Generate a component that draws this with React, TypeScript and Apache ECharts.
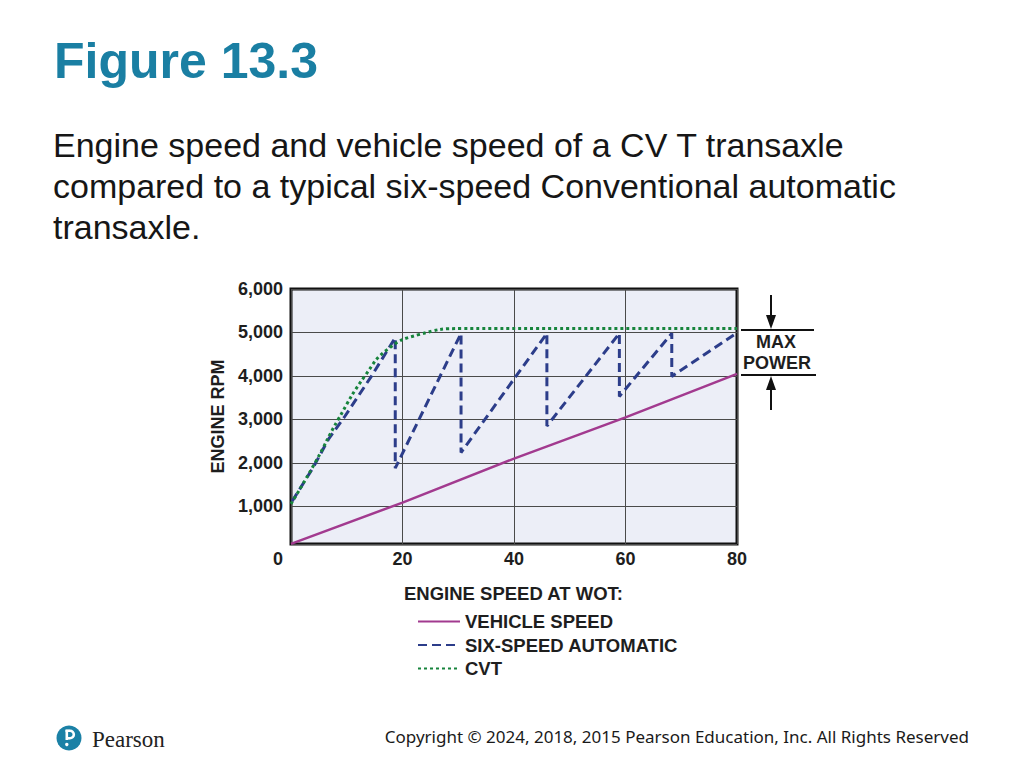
import { useEffect, useRef } from 'react';
import * as echarts from 'echarts';

// values (x = speed axis, y = engine rpm)
const vehicleSpeed: [number, number][] = [
  [0, 140], [20, 1090], [40, 2100], [60, 3050], [80, 4050],
];
const sixSpeed: [number, number][] = [
  [0.2, 1120], [4, 1900], [6.7, 2540], [9.7, 3080], [14.5, 4010], [18.7, 4880],
  [18.7, 1880], [30.5, 4980],
  [30.5, 2240], [45.9, 4980],
  [45.9, 2850], [58.9, 4980],
  [58.9, 3530], [68.3, 4980],
  [68.3, 3990], [79.5, 4950],
];
const cvt: [number, number][] = [
  [0, 1060], [4.3, 2000], [8.5, 3010], [13.3, 4010], [17.5, 4630],
  [22.9, 4950], [30.6, 5090], [50, 5090], [80, 5090],
];
const seriesNames = ['VEHICLE SPEED', 'SIX-SPEED AUTOMATIC', 'CVT'];
const bodyLines = [
  'Engine speed and vehicle speed of a CV T transaxle',
  'compared to a typical six-speed Conventional automatic',
  'transaxle.',
];

const SANS = '"Liberation Sans", Arial, sans-serif';
const INK = '#1e1e1e';

const App = () => {
  const chartRef = useRef<HTMLDivElement>(null);

  useEffect(() => {
    if (!chartRef.current) return;
    const chart = echarts.init(chartRef.current, undefined, { renderer: 'svg' });

    const bold18 = { fontFamily: SANS, fontWeight: 'bold' as const, fontSize: 18, color: INK };

    chart.setOption({
      animation: false,
      backgroundColor: '#ffffff',
      grid: {
        left: 291,
        top: 289,
        width: 446,
        height: 255,
        show: true,
        backgroundColor: '#eceef7',
        borderColor: '#111',
        borderWidth: 3,
      },
      xAxis: {
        type: 'value',
        min: 0,
        max: 80,
        interval: 20,
        axisLine: { show: false },
        axisTick: { show: false },
        splitLine: { lineStyle: { color: '#4a4a4a', width: 1 } },
        axisLabel: {
          ...bold18,
          margin: 6,
          formatter: (v: number) => (v === 0 ? '{z|0}' : String(v)),
          rich: { z: { ...bold18, padding: [0, 26, 0, 0] } },
        },
      },
      yAxis: {
        type: 'value',
        min: 137,
        max: 6000,
        minInterval: 1000,
        maxInterval: 1000,
        axisLine: { show: false },
        axisTick: { show: false },
        splitLine: { lineStyle: { color: '#4a4a4a', width: 1 } },
        axisLabel: {
          ...bold18,
          margin: 8,
          formatter: (v: number) => (v < 1000 ? '' : v.toLocaleString('en-US')),
        },
        name: 'ENGINE RPM',
        nameLocation: 'middle',
        nameRotate: 90,
        nameGap: 64,
        nameTextStyle: bold18,
      },
      legend: {
        orient: 'vertical',
        left: 417,
        top: 612,
        padding: 0,
        itemWidth: 42,
        itemHeight: 18,
        itemGap: 4.5,
        selectedMode: false,
        data: seriesNames,
        itemStyle: { opacity: 0 },
        textStyle: { ...bold18, fontSize: 18.5, lineHeight: 18 },
      },
      series: [
        {
          name: seriesNames[0],
          type: 'line',
          data: vehicleSpeed,
          symbol: 'none',
          lineStyle: { color: '#a23a8f', width: 2.5 },
          itemStyle: { color: '#a23a8f' },
        },
        {
          name: seriesNames[1],
          type: 'line',
          data: sixSpeed,
          symbol: 'none',
          lineStyle: { color: '#2c3d8a', width: 3, type: [9, 5] },
          itemStyle: { color: '#2c3d8a' },
        },
        {
          name: seriesNames[2],
          type: 'line',
          data: cvt,
          smooth: 0.5,
          symbol: 'none',
          lineStyle: { color: '#17843c', width: 3, type: [3, 3] },
          itemStyle: { color: '#17843c' },
        },
      ],
      graphic: [
        {
          type: 'text',
          left: 54,
          top: 36,
          style: {
            text: 'Figure 13.3',
            fill: '#1a7fa3',
            font: `bold 50px ${SANS}`,
          },
        },
        ...bodyLines.map((t, i) => ({
          type: 'text',
          left: 53,
          top: 128 + i * 41,
          style: { text: t, fill: '#161616', font: `34px ${SANS}` },
        })),
        {
          type: 'text',
          left: 404,
          top: 584,
          style: { text: 'ENGINE SPEED AT WOT:', fill: INK, font: `bold 18.5px ${SANS}` },
        },
        // MAX POWER bracket
        { type: 'line', shape: { x1: 741, y1: 330, x2: 814, y2: 330 }, style: { stroke: '#111', lineWidth: 2 } },
        { type: 'line', shape: { x1: 741, y1: 375, x2: 816, y2: 375 }, style: { stroke: '#111', lineWidth: 2 } },
        { type: 'line', shape: { x1: 771, y1: 295, x2: 771, y2: 318 }, style: { stroke: '#111', lineWidth: 2 } },
        { type: 'polygon', shape: { points: [[766, 315], [776, 315], [771, 329]] }, style: { fill: '#111' } },
        { type: 'line', shape: { x1: 771, y1: 388, x2: 771, y2: 410 }, style: { stroke: '#111', lineWidth: 2 } },
        { type: 'polygon', shape: { points: [[766, 390], [776, 390], [771, 376]] }, style: { fill: '#111' } },
        {
          type: 'text',
          x: 776,
          y: 342,
          style: { text: 'MAX', fill: INK, font: `bold 18px ${SANS}`, align: 'center', verticalAlign: 'middle' },
        },
        {
          type: 'text',
          x: 777,
          y: 363,
          style: { text: 'POWER', fill: INK, font: `bold 18px ${SANS}`, align: 'center', verticalAlign: 'middle' },
        },
        // Pearson logo
        { type: 'circle', shape: { cx: 69, cy: 738, r: 12.5 }, style: { fill: '#1b81a6' } },
        {
          type: 'arc',
          shape: { cx: 70, cy: 734.5, r: 3.8, startAngle: -Math.PI / 2, endAngle: Math.PI / 2 },
          style: { stroke: '#fff', lineWidth: 2.6, fill: 'none' },
        },
        { type: 'line', shape: { x1: 65.5, y1: 730.7, x2: 70, y2: 730.7 }, style: { stroke: '#fff', lineWidth: 2.6 } },
        { type: 'line', shape: { x1: 66.8, y1: 730, x2: 66.8, y2: 740 }, style: { stroke: '#fff', lineWidth: 2.6 } },
        { type: 'line', shape: { x1: 66.8, y1: 738.3, x2: 70, y2: 738.3 }, style: { stroke: '#fff', lineWidth: 2.6 } },
        { type: 'circle', shape: { cx: 66.8, cy: 744.5, r: 1.7 }, style: { fill: '#fff' } },
        {
          type: 'text',
          x: 92,
          y: 739,
          style: {
            text: 'Pearson',
            fill: '#222',
            font: '23px "Liberation Serif", "Times New Roman", serif',
            verticalAlign: 'middle',
          },
        },
        {
          type: 'text',
          x: 969,
          y: 736,
          style: {
            text: 'Copyright © 2024, 2018, 2015 Pearson Education, Inc. All Rights Reserved',
            fill: '#1a1a1a',
            font: '17px "Noto Sans", "Open Sans", sans-serif',
            align: 'right',
            verticalAlign: 'middle',
          },
        },
      ],
    });

    return () => {
      chart.dispose();
    };
  }, []);

  return (
    <div
      ref={chartRef}
      style={{ position: 'fixed', left: 0, top: 0, width: 1024, height: 768 }}
    />
  );
};

export default App;
